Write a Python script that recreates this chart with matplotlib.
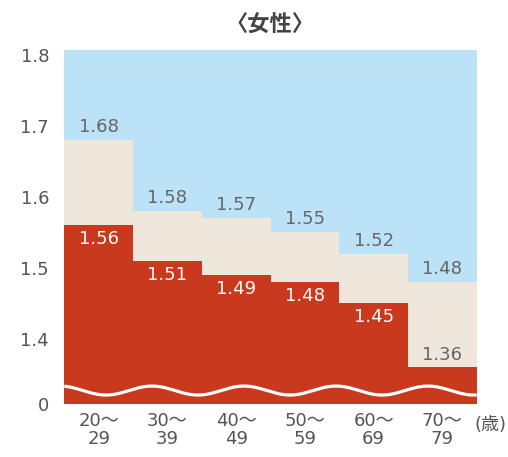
import numpy as np
import matplotlib
matplotlib.use("Agg")
import matplotlib.pyplot as plt

plt.rcParams['font.family'] = ['DejaVu Sans', 'Noto Sans CJK JP']

categories = ["20～\n29", "30～\n39", "40～\n49", "50～\n59", "60～\n69", "70～\n79"]
beige_vals = [1.68, 1.58, 1.57, 1.55, 1.52, 1.48]
red_vals = [1.56, 1.51, 1.49, 1.48, 1.45, 1.36]
ytick_vals = [1.4, 1.5, 1.6, 1.7, 1.8]
ytick_labels = ["1.4", "1.5", "1.6", "1.7", "1.8"]

BLUE = "#BCE2F7"
BEIGE = "#EFE6DC"
RED = "#C8391D"
GRAY = "#666666"
TICK = "#555555"

ymin, ymax = 1.308, 1.807
FS = 13

fig = plt.figure(figsize=(5.08, 4.57), dpi=100)
ax = fig.add_axes([64.3/508, 1-404/457, 412.4/508, 354/457])
ax.set_facecolor(BLUE)
x = np.arange(len(categories))
ax.bar(x, [v - ymin for v in beige_vals], bottom=ymin, width=1.0, color=BEIGE, linewidth=0)
ax.bar(x, [v - ymin for v in red_vals], bottom=ymin, width=1.0, color=RED, linewidth=0)

ax.set_xlim(-0.5, len(categories) - 0.5)
ax.set_ylim(ymin, ymax)
for s in ax.spines.values():
    s.set_visible(False)

ax.set_yticks([ymin] + ytick_vals)
ax.set_yticklabels(["0"] + ytick_labels)
ax.tick_params(axis='y', length=0, pad=11, labelsize=FS, labelcolor=TICK)
ax.set_xticks(x)
ax.set_xticklabels(categories, linespacing=1.0)
ax.tick_params(axis='x', length=0, pad=6, labelsize=FS, labelcolor=TICK)

px = 707.0  # pixels per data unit (approx)
for i in range(len(categories)):
    ax.text(x[i], beige_vals[i] + 13/px, f"{beige_vals[i]:.2f}", ha='center', va='center',
            fontsize=FS, color=GRAY)
    if red_vals[i] > 1.4:
        ax.text(x[i], red_vals[i] - 14/px, f"{red_vals[i]:.2f}", ha='center', va='center',
                fontsize=FS, color='white')
    else:
        ax.text(x[i], red_vals[i] + 12/px, f"{red_vals[i]:.2f}", ha='center', va='center',
                fontsize=FS, color=GRAY)

# decorative axis-break wave
wx = np.linspace(0, 1, 600)
wy = 0.038 + 0.0127 * np.cos(2 * np.pi * (wx - 0.2127) / 0.223)
ax.plot(wx, wy, transform=ax.transAxes, color='white', lw=2.3, solid_capstyle='butt', clip_on=True)

fig.text(270/508, 1-25/457, "〈女性〉", ha='center', va='center', fontsize=16,
         fontweight='bold', color="#444444", family=['Noto Sans CJK JP'])
fig.text(490/508, 1-425/457, "(歳)", ha='center', va='center', fontsize=FS, color=TICK)

fig.savefig("out.png", dpi=100)
